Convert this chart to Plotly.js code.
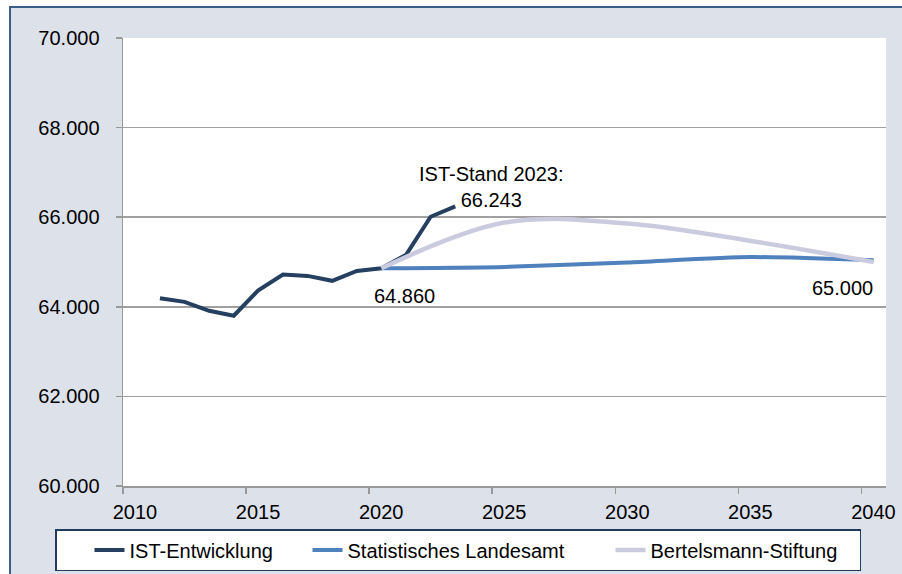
<!DOCTYPE html>
<html><head><meta charset="utf-8">
<script src="https://cdn.plot.ly/plotly-3.0.1.min.js"></script>
<style>html,body{margin:0;padding:0;background:#fff}#chart{width:902px;height:574px}</style>
</head><body><div id="chart"></div>
<script>
// ---- data ----
const istYears = [2011,2012,2013,2014,2015,2016,2017,2018,2019,2020,2021,2022,2023];
const istValues = [64190,64110,63910,63800,64370,64720,64690,64580,64800,64860,65160,66010,66243];
const projYears = [2020,2025,2030,2035,2040];
const landesamtValues = [64860,64890,64990,65110,65040];
const bertelsmannValues = [64860,65880,65860,65470,65000];
const seriesNames = ['IST-Entwicklung','Statistisches Landesamt','Bertelsmann-Stiftung'];
const xTickLabels = [2010,2015,2020,2025,2030,2035,2040];
const yTickValues = [60000,62000,64000,66000,68000,70000];
const annotationTexts = ['IST-Stand 2023:<br>66.243','64.860','65.000'];

// ---- layout helpers (pixel -> paper) ----
const W=902,H=574,L=123,R=16,T=38,B=88;
const pw=W-L-R, ph=H-T-B;
const px = x => (x-L)/pw;
const py = y => (H-B-y)/ph;
const FONT = 'Liberation Sans, Arial, sans-serif';

const traces = [
  {x:istYears, y:istValues, name:seriesNames[0], type:'scatter', mode:'lines',
   legendwidth:140, line:{color:'#243f60', width:4}},
  {x:projYears, y:landesamtValues, name:seriesNames[1], type:'scatter', mode:'lines',
   legendwidth:225, line:{color:'#4f81bd', width:4, shape:'spline', smoothing:0.6}},
  {x:projYears, y:bertelsmannValues, name:seriesNames[2], type:'scatter', mode:'lines',
   legendwidth:204, line:{color:'#cbcbe0', width:4.5, shape:'spline', smoothing:1}}
];

const layout = {
  width:W, height:H,
  margin:{l:L, r:R, t:T, b:B, autoexpand:false},
  paper_bgcolor:'#dde1ea', plot_bgcolor:'#ffffff',
  separators:',.',
  font:{family:FONT, size:20, color:'#000'},
  showlegend:true,
  hovermode:false,
  xaxis:{
    range:[2009.5, 2040.5], tickmode:'array',
    tickvals:xTickLabels.map(v=>v-0.5), ticktext:xTickLabels.map(String),
    ticklabelshift:12, ticklabelstandoff:1,
    ticks:'outside', ticklen:6, tickwidth:1.5, tickcolor:'#999',
    showline:true, linecolor:'#999', linewidth:1.5,
    showgrid:false, zeroline:false,
    tickfont:{size:20, color:'#000', family:FONT}
  },
  yaxis:{
    range:[60000,70000], tickmode:'array', tickvals:yTickValues,
    tickformat:',d', ticklabelstandoff:12,
    ticks:'outside', ticklen:6, tickwidth:1.5, tickcolor:'#999',
    showline:true, linecolor:'#999', linewidth:1.5,
    showgrid:true, gridcolor:'#a0a0a0', gridwidth:1.5, zeroline:false,
    tickfont:{size:20, color:'#000', family:FONT}
  },
  legend:{
    orientation:'h', x:px(55), xanchor:'left', y:py(529), yanchor:'top',
    bgcolor:'#ffffff', bordercolor:'#1f3b5e', borderwidth:1.5,
    font:{size:20, color:'#000', family:FONT},
    entrywidthmode:'pixels', indentation:33, traceorder:'normal'
  },
  annotations:[
    {xref:'paper', yref:'paper', x:px(491.5), y:py(186.5), text:annotationTexts[0],
     showarrow:false, xanchor:'center', yanchor:'middle', font:{size:20,color:'#000'}},
    {xref:'paper', yref:'paper', x:px(404), y:py(296), text:annotationTexts[1],
     showarrow:false, xanchor:'center', yanchor:'middle', font:{size:20,color:'#000'}},
    {xref:'paper', yref:'paper', x:px(875), y:py(288), text:annotationTexts[2],
     showarrow:false, xanchor:'right', yanchor:'middle', font:{size:20,color:'#000'}}
  ],
  shapes:[
    {type:'rect', xref:'paper', yref:'paper', x0:px(-5), x1:px(10), y0:py(H+5), y1:py(-5),
     fillcolor:'#ffffff', line:{width:0}, layer:'above'},
    {type:'rect', xref:'paper', yref:'paper', x0:px(-5), x1:px(W+5), y0:py(7), y1:py(-5),
     fillcolor:'#ffffff', line:{width:0}, layer:'above'},
    {type:'line', xref:'paper', yref:'paper', x0:px(10), x1:px(10), y0:py(6), y1:py(H+5),
     line:{color:'#3a5d8b', width:2}, layer:'above'},
    {type:'line', xref:'paper', yref:'paper', x0:px(9), x1:px(W+5), y0:py(7), y1:py(7),
     line:{color:'#3a5d8b', width:2}, layer:'above'}
  ]
};

Plotly.newPlot('chart', traces, layout, {displayModeBar:false, staticPlot:true});
</script>
</body></html>
